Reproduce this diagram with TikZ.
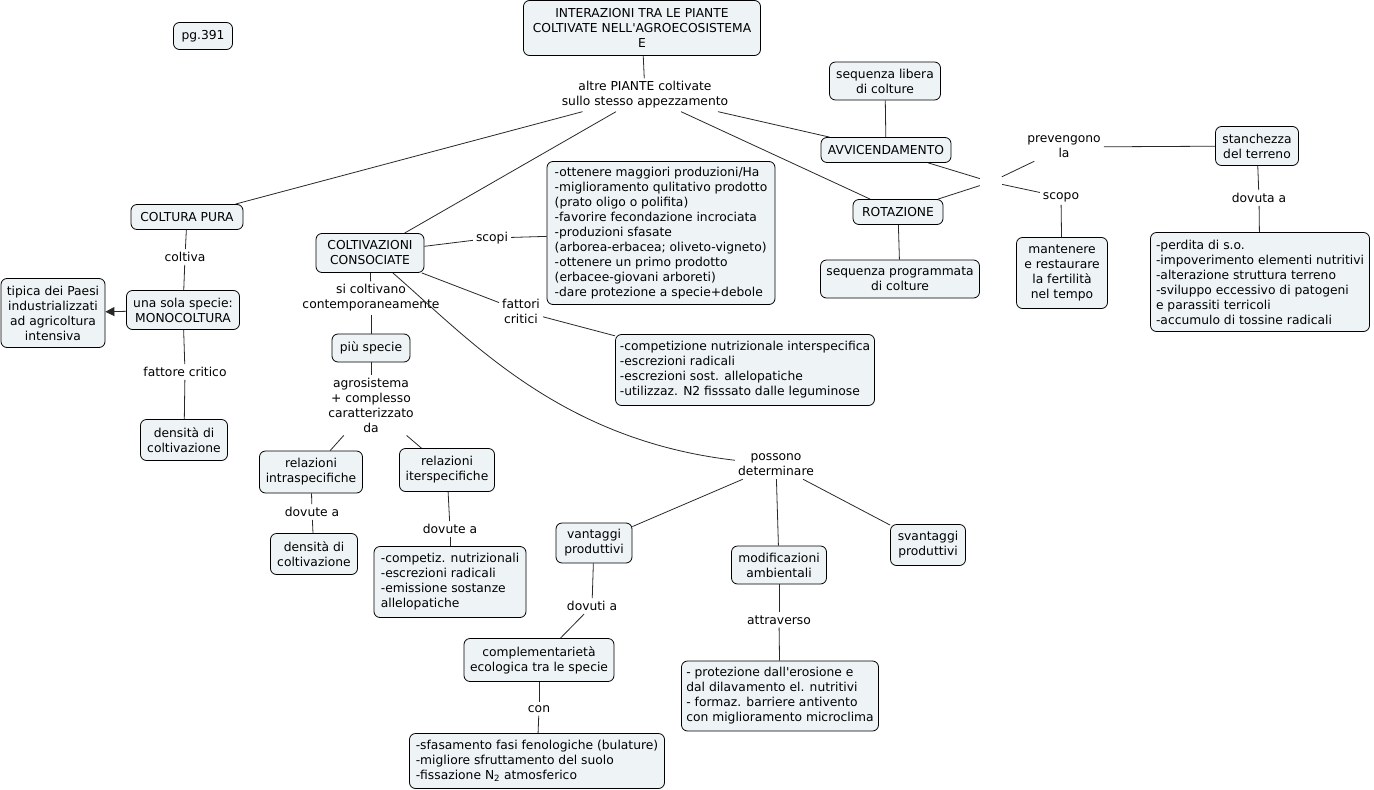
\documentclass[tikz,border=0pt]{standalone}
\usepackage{fontspec}
\newfontfamily\dv{DejaVu Sans}
\usetikzlibrary{arrows.meta}
\definecolor{boxfill}{RGB}{238,243,246}
\definecolor{lnk}{RGB}{40,40,40}
\begin{document}
\begin{tikzpicture}[x=1pt,y=-1pt,
  every node/.style={font=\dv\fontsize{12.3}{15}\selectfont},
  cbox/.style={draw=black, fill=boxfill, rounded corners=6pt, line width=0.8pt, align=center, inner sep=0pt},
  lbox/.style={cbox, align=left},
  lbl/.style={align=center, inner sep=3pt},
  conn/.style={draw=lnk, line width=0.8pt}]
\useasboundingbox[fill=white] (0,0) rectangle (1374,790);

\node[cbox, minimum width=59, minimum height=27] (pg) at (203,36) {pg.391};
\node[cbox, minimum width=237, minimum height=55] (title) at (642,28) {INTERAZIONI TRA LE PIANTE\\COLTIVATE NELL'AGROECOSISTEMA\\E};
\node[lbl] (altre) at (645,95) {altre PIANTE coltivate\\sullo stesso appezzamento};
\node[cbox, minimum width=111, minimum height=38] (seqlib) at (885,81) {sequenza libera\\di colture};
\node[cbox, minimum width=130, minimum height=25] (avv) at (886,150) {AVVICENDAMENTO};
\node[cbox, minimum width=90, minimum height=25] (rot) at (898,212) {ROTAZIONE};
\node[cbox, minimum width=159, minimum height=38] (seqprog) at (900,279) {sequenza programmata\\di colture};
\node[minimum width=22, minimum height=10, inner sep=0pt] (jn) at (991,182) {};
\node[lbl] (prev) at (1064,147) {prevengono\\la};
\node[lbl] (scopo) at (1061,197) {scopo};
\node[cbox, minimum width=83, minimum height=39] (stanch) at (1257,146) {stanchezza\\del terreno};
\node[lbl] (dovuta) at (1259,198) {dovuta a};
\node[lbox, minimum width=219, minimum height=99] (perdita) at (1260,282) {-perdita di s.o.\\-impoverimento elementi nutritivi\\-alterazione struttura terreno\\-sviluppo eccessivo di patogeni\\e parassiti terricoli\\-accumulo di tossine radicali};
\node[cbox, minimum width=91, minimum height=71] (mant) at (1062,273) {mantenere\\e restaurare\\la fertilità\\nel tempo};
\node[cbox, minimum width=112, minimum height=25] (pura) at (187,217) {COLTURA PURA};
\node[lbl] (coltiva) at (185,257) {coltiva};
\node[cbox, minimum width=113, minimum height=39] (mono) at (183,310) {una sola specie:\\MONOCOLTURA};
\node[cbox, minimum width=104, minimum height=69] (tipica) at (53,313) {tipica dei Paesi\\industrializzati\\ad agricoltura\\intensiva};
\node[lbl] (fatt) at (185,372) {fattore critico};
\node[cbox, minimum width=87, minimum height=41] (dens1) at (184,440) {densità di\\coltivazione};
\node[cbox, minimum width=108, minimum height=39] (consoc) at (370,253) {COLTIVAZIONI\\CONSOCIATE};
\node[lbl] (scopi) at (492,238) {scopi};
\node[lbox, minimum width=228, minimum height=143] (scopil) at (661,233) {-ottenere maggiori produzioni/Ha\\-miglioramento qulitativo prodotto\\(prato oligo o polifita)\\-favorire fecondazione incrociata\\-produzioni sfasate\\(arborea-erbacea; oliveto-vigneto)\\-ottenere un primo prodotto\\(erbacee-giovani arboreti)\\-dare protezione a specie+debole};
\node[lbl] (fattori) at (521,311) {fattori\\critici};
\node[lbox, minimum width=259, minimum height=71] (compet) at (745,370) {-competizione nutrizionale interspecifica\\-escrezioni radicali\\-escrezioni sost. allelopatiche\\-utilizzaz. N2 fisssato dalle leguminose};
\node[lbl] (sicolt) at (371,298) {si coltivano\\contemporaneamente};
\node[cbox, minimum width=78, minimum height=28] (piu) at (371,348) {più specie};
\node[lbl] (agro) at (371,405) {agrosistema\\+ complesso\\caratterizzato\\da};
\node[cbox, minimum width=103, minimum height=42] (intra) at (311,472) {relazioni\\intraspecifiche};
\node[cbox, minimum width=95, minimum height=43] (inter) at (447,470) {relazioni\\iterspecifiche};
\node[lbl] (dov1) at (312,512) {dovute a};
\node[cbox, minimum width=87, minimum height=41] (dens2) at (314,554) {densità di\\coltivazione};
\node[lbl] (dov2) at (450,529) {dovute a};
\node[lbox, minimum width=152, minimum height=71] (competiz) at (450,582) {-competiz. nutrizionali\\-escrezioni radicali\\-emissione sostanze\\allelopatiche};
\node[lbl] (possono) at (776,465) {possono\\determinare};
\node[cbox, minimum width=76, minimum height=40] (vant) at (594,543) {vantaggi\\produttivi};
\node[cbox, minimum width=95, minimum height=38] (modif) at (779,565) {modificazioni\\ambientali};
\node[cbox, minimum width=75, minimum height=41] (svant) at (928,545) {svantaggi\\produttivi};
\node[lbl] (dovuti) at (592,606) {dovuti a};
\node[cbox, minimum width=150, minimum height=43] (compl) at (539,660) {complementarietà\\ecologica tra le specie};
\node[lbl] (con) at (539,709) {con};
\node[lbox, minimum width=255, minimum height=55] (sfas) at (537,761) {-sfasamento fasi fenologiche (bulature)\\-migliore sfruttamento del suolo\\-fissazione N\textsubscript{2} atmosferico};
\node[lbl] (attrav) at (779,620) {attraverso};
\node[lbox, minimum width=197, minimum height=70] (prot) at (780,696) {- protezione dall'erosione e\\dal dilavamento el. nutritivi\\- formaz. barriere antivento\\con miglioramento microclima};

\draw[conn] (title) -- (altre);
\draw[conn] (altre) -- (pura);
\draw[conn] (altre) -- (consoc);
\draw[conn] (altre) -- (rot);
\draw[conn] (altre) -- (avv);
\draw[conn] (seqlib) -- (avv);
\draw[conn] (avv) -- (jn);
\draw[conn] (rot) -- (jn);
\draw[conn] (jn) -- (prev);
\draw[conn] (jn) -- (scopo);
\draw[conn] (prev) -- (stanch);
\draw[conn] (scopo) -- (mant);
\draw[conn] (stanch) -- (dovuta);
\draw[conn] (dovuta) -- (perdita);
\draw[conn] (rot) -- (seqprog);
\draw[conn] (pura) -- (coltiva);
\draw[conn] (coltiva) -- (mono);
\draw[conn, -{Triangle[length=9pt,width=9pt]}] (mono) -- (tipica);
\draw[conn] (mono) -- (fatt);
\draw[conn] (fatt) -- (dens1);
\draw[conn] (consoc) -- (scopi);
\draw[conn] (scopi) -- (scopil);
\draw[conn] (consoc) -- (fattori);
\draw[conn] (fattori) -- (compet);
\draw[conn] (consoc) -- (sicolt);
\draw[conn] (sicolt) -- (piu);
\draw[conn] (piu) -- (agro);
\draw[conn] (agro) -- (intra);
\draw[conn] (agro) -- (inter);
\draw[conn] (intra) -- (dov1);
\draw[conn] (dov1) -- (dens2);
\draw[conn] (inter) -- (dov2);
\draw[conn] (dov2) -- (competiz);
\draw[conn] (consoc) .. controls (470,340) and (560,440) .. (possono);
\draw[conn] (possono) -- (vant);
\draw[conn] (possono) -- (modif);
\draw[conn] (possono) -- (svant);
\draw[conn] (vant) -- (dovuti);
\draw[conn] (dovuti) -- (compl);
\draw[conn] (compl) -- (con);
\draw[conn] (con) -- (sfas);
\draw[conn] (modif) -- (attrav);
\draw[conn] (attrav) -- (prot);
\end{tikzpicture}
\end{document}
